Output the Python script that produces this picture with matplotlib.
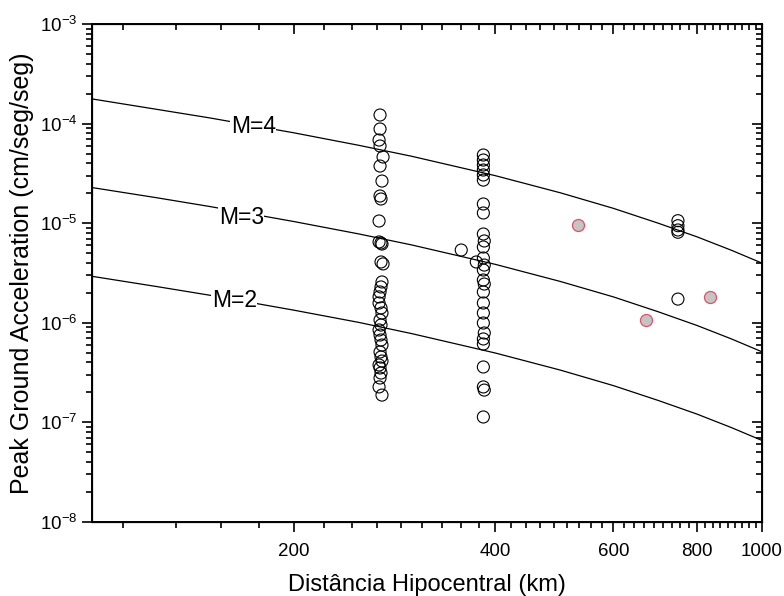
import matplotlib
matplotlib.use('Agg')
import matplotlib.pyplot as plt
import numpy as np
from matplotlib.ticker import FixedLocator, FixedFormatter, NullFormatter, LogLocator, LogFormatterMathtext

plt.rcParams['font.family'] = ['Liberation Sans', 'DejaVu Sans']
plt.rcParams['mathtext.fontset'] = 'custom'
plt.rcParams['mathtext.rm'] = 'Liberation Sans'

# curvas de atenuacao
dist_curva = [100, 125, 150, 200, 250, 300, 400, 500, 600, 700, 800, 900, 1000]
pga_m4 = [1.77e-4, 1.39e-4, 1.14e-4, 8.09e-5, 6.06e-5, 4.70e-5, 3.00e-5, 2.02e-5,
          1.41e-5, 1.00e-5, 7.29e-6, 5.35e-6, 3.97e-6]
pga_m3 = [2.28e-5, 1.80e-5, 1.47e-5, 1.04e-5, 7.81e-6, 6.05e-6, 3.86e-6, 2.60e-6,
          1.82e-6, 1.29e-6, 9.39e-7, 6.89e-7, 5.11e-7]
pga_m2 = [2.93e-6, 2.31e-6, 1.89e-6, 1.34e-6, 1.01e-6, 7.79e-7, 4.97e-7, 3.35e-7,
          2.34e-7, 1.66e-7, 1.21e-7, 8.87e-8, 6.58e-8]
rotulos = ['M=4', 'M=3', 'M=2']
pos_rotulos = [(174, 9.3e-5), (167, 1.15e-5), (163, 1.69e-6)]

# observacoes (circulos abertos)
dist_obs = [269.1, 269.1, 268.2, 269.1, 271.9, 269.1, 270.9, 269.1, 270.0, 268.2,
            268.2, 270.0, 270.9, 270.0, 271.9, 270.9, 270.0, 269.1, 268.2, 268.2,
            270.0, 270.9, 269.1, 270.0, 268.2, 269.1, 270.0, 270.9, 269.1, 270.0,
            270.9, 268.2, 269.1, 270.0, 269.1, 268.2, 270.9,
            383.8, 383.8, 383.8, 383.8, 383.8, 383.8, 383.8, 383.8, 383.8, 385.0,
            383.8, 383.8, 385.0, 383.8, 383.8, 385.0, 383.8, 383.8, 383.8, 383.8,
            385.0, 383.8, 383.8, 383.8, 383.8, 385.0, 383.8,
            355.7, 374.6, 749, 749, 749, 749, 749]
pga_obs = [1.22e-4, 8.83e-5, 6.84e-5, 5.96e-5, 4.62e-5, 3.75e-5, 2.65e-5, 1.875e-5, 1.75e-5, 1.052e-5,
           6.48e-6, 6.33e-6, 6.18e-6, 4.08e-6, 3.90e-6, 2.57e-6, 2.29e-6, 2.04e-6, 1.82e-6, 1.58e-6,
           1.41e-6, 1.254e-6, 1.066e-6, 9.50e-7, 8.47e-7, 7.54e-7, 6.72e-7, 5.98e-7, 5.09e-7, 4.53e-7,
           4.13e-7, 3.77e-7, 3.52e-7, 3.13e-7, 2.79e-7, 2.27e-7, 1.88e-7,
           4.84e-5, 4.31e-5, 3.84e-5, 3.42e-5, 3.05e-5, 2.71e-5, 1.559e-5, 1.266e-5, 7.79e-6, 6.63e-6,
           5.77e-6, 4.47e-6, 3.80e-6, 3.39e-6, 2.69e-6, 2.45e-6, 2.04e-6, 1.58e-6, 1.254e-6, 9.95e-7,
           7.90e-7, 6.88e-7, 6.12e-7, 3.60e-7, 2.27e-7, 2.11e-7, 1.133e-7,
           5.38e-6, 4.08e-6, 1.06e-5, 9.44e-6, 8.55e-6, 8.11e-6, 1.73e-6]

# observacoes destacadas (cinza com borda vermelha)
dist_dest = [531, 671, 837]
pga_dest = [9.6e-6, 1.07e-6, 1.82e-6]

fig = plt.figure(figsize=(7.84, 5.96), dpi=100)
ax = fig.add_axes([0.1173, 0.1242, 0.8547, 0.8355])

for pga in [pga_m4, pga_m3, pga_m2]:
    ax.plot(dist_curva, pga, color='black', lw=0.9, zorder=2)
for txt, (xr, yr) in zip(rotulos, pos_rotulos):
    ax.text(xr, yr, txt, fontsize=16.5, ha='center', va='center', zorder=3,
            bbox=dict(facecolor='white', edgecolor='none', pad=0.3))

ax.scatter(dist_obs, pga_obs, s=75, facecolors='none', edgecolors='black', linewidths=0.8, zorder=4)
ax.scatter(dist_dest, pga_dest, s=75, facecolors='#c4c4c4', edgecolors='#e0506a', linewidths=0.9, zorder=4)

ax.set_xscale('log')
ax.set_yscale('log')
ax.set_xlim(100, 1000)
ax.set_ylim(1e-8, 1e-3)

ax.xaxis.set_major_locator(FixedLocator([200, 400, 600, 800, 1000]))
ax.xaxis.set_major_formatter(FixedFormatter(['200', '400', '600', '800', '1000']))
minx = [k * 200 / 9 for k in range(5, 46) if k % 9 != 0]
ax.xaxis.set_minor_locator(FixedLocator(minx))
ax.xaxis.set_minor_formatter(NullFormatter())
ax.yaxis.set_major_locator(LogLocator(base=10, numticks=10))
ax.yaxis.set_major_formatter(LogFormatterMathtext())
ax.yaxis.set_minor_locator(LogLocator(base=10, subs=np.arange(2, 10), numticks=20))
ax.yaxis.set_minor_formatter(NullFormatter())

ax.tick_params(which='both', direction='out', labelsize=13.5, width=1.2, top=False, right=False)
ax.tick_params(which='major', length=7)
ax.tick_params(which='minor', length=4)
ax.tick_params(axis='x', which='major', pad=8)
for s in ax.spines.values():
    s.set_linewidth(1.4)

# eixos de cima e da direita com marcas para dentro
ax2 = ax.twinx()
ax2.set_yscale('log')
ax2.set_ylim(1e-8, 1e-3)
ax2.yaxis.set_major_locator(LogLocator(base=10, numticks=10))
ax2.yaxis.set_minor_locator(LogLocator(base=10, subs=np.arange(2, 10), numticks=20))
ax2.tick_params(which='both', direction='in', labelright=False, width=1.2)
ax2.tick_params(which='major', length=7)
ax2.tick_params(which='minor', length=4)
ax3 = ax.twiny()
ax3.set_xscale('log')
ax3.set_xlim(100, 1000)
ax3.xaxis.set_major_locator(FixedLocator([200, 400, 600, 800, 1000]))
ax3.xaxis.set_minor_locator(FixedLocator(minx))
ax3.tick_params(which='both', direction='in', labeltop=False, width=1.2)
ax3.tick_params(which='major', length=7)
ax3.tick_params(which='minor', length=4)

ax.set_xlabel('Distância Hipocentral (km)', fontsize=17, labelpad=10)
ax.set_ylabel('Peak Ground Acceleration (cm/seg/seg)', fontsize=18, labelpad=4)

fig.savefig('out.png', dpi=100)
